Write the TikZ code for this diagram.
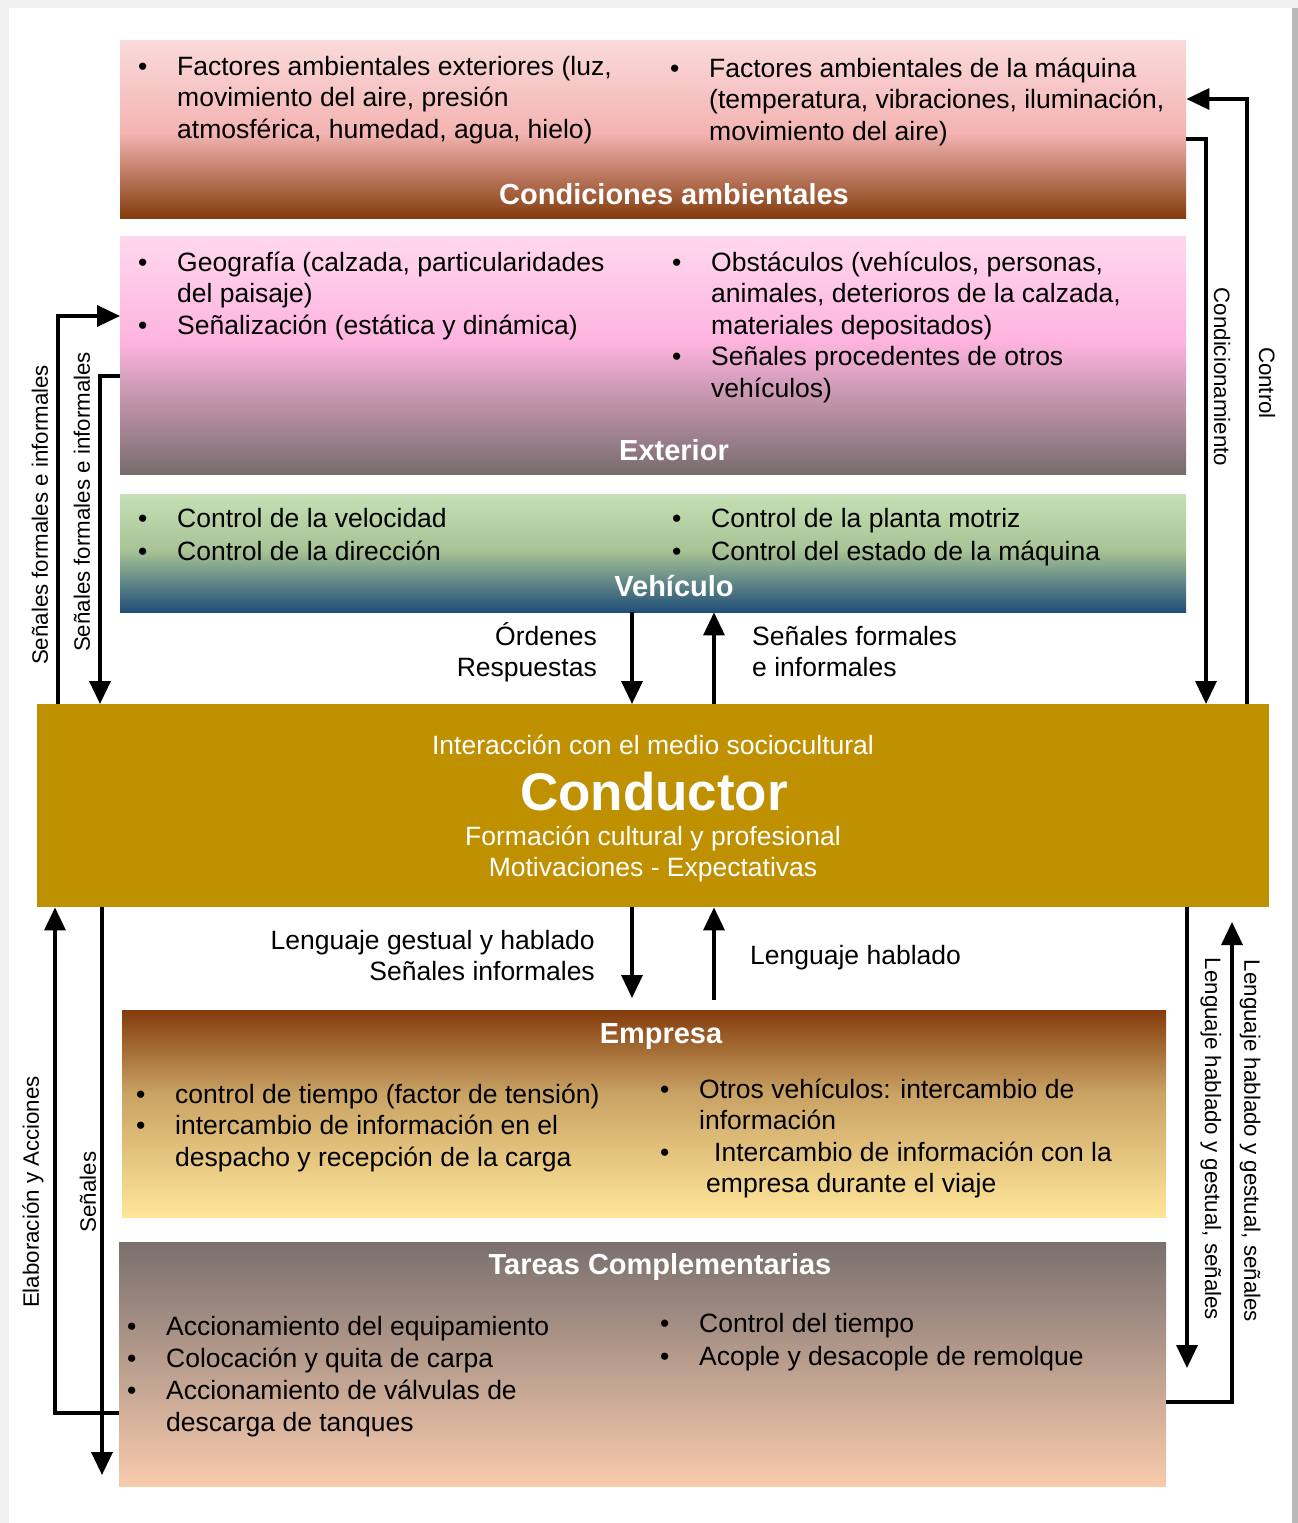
\documentclass[tikz,border=0pt]{standalone}
\usepackage{fontspec}
\setmainfont{Liberation Sans}
\usetikzlibrary{arrows.meta,positioning}
\definecolor{ambtop}{HTML}{FADADA}
\definecolor{ambmid}{HTML}{F3B4B2}
\definecolor{ambbot}{HTML}{843C0C}
\definecolor{exttop}{HTML}{FFD8EE}
\definecolor{extmid}{HTML}{FEB4DF}
\definecolor{extbot}{HTML}{776C6C}
\definecolor{vehtop}{HTML}{C5E0B4}
\definecolor{vehmid}{HTML}{A7C294}
\definecolor{vehbot}{HTML}{1F4E79}
\definecolor{emptop}{HTML}{843C0C}
\definecolor{empmid}{HTML}{C9A264}
\definecolor{empbot}{HTML}{FFE699}
\definecolor{tartop}{HTML}{7A706E}
\definecolor{tarbot}{HTML}{F8CBAD}
\definecolor{drvgold}{HTML}{BF9000}
\pgfdeclareverticalshading{ambshade}{100bp}{color(0bp)=(ambbot); color(25bp)=(ambbot); color(49bp)=(ambmid); color(75bp)=(ambtop); color(100bp)=(ambtop)}
\pgfdeclareverticalshading{extshade}{100bp}{color(0bp)=(extbot); color(25bp)=(extbot); color(53bp)=(extmid); color(75bp)=(exttop); color(100bp)=(exttop)}
\pgfdeclareverticalshading{vehshade}{100bp}{color(0bp)=(vehbot); color(25bp)=(vehbot); color(51bp)=(vehmid); color(75bp)=(vehtop); color(100bp)=(vehtop)}
\pgfdeclareverticalshading{empshade}{100bp}{color(0bp)=(empbot); color(25bp)=(empbot); color(55bp)=(empmid); color(75bp)=(emptop); color(100bp)=(emptop)}
\pgfdeclareverticalshading{tarshade}{100bp}{color(0bp)=(tarbot); color(25bp)=(tarbot); color(75bp)=(tartop); color(100bp)=(tartop)}
\tikzset{
  box/.style={rectangle,inner sep=0pt,anchor=north west},
  lst/.style={anchor=base west,inner sep=0pt,font=\fontsize{26.5}{31.5}\selectfont},
  ttl/.style={anchor=base,inner sep=0pt,text=white,font=\bfseries\fontsize{29}{34}\selectfont},
  wtxt/.style={anchor=base,inner sep=0pt,text=white,font=\fontsize{26.5}{31.5}\selectfont},
  lbl/.style={inner sep=0pt,font=\fontsize{26.5}{31.5}\selectfont},
  vlbl/.style={inner sep=0pt,font=\fontsize{22.3}{26}\selectfont},
  flow/.style={line width=3.5pt,-{Triangle[length=23pt,width=21pt]}}
}
\newcommand{\blist}[1]{\begin{tabular}[t]{@{}p{39pt}@{}l@{}}#1\end{tabular}}
\newcommand{\rows}[2]{\begin{tabular}[t]{@{}#1@{}}#2\end{tabular}}
\begin{document}
\begin{tikzpicture}[x=1pt,y=-1pt]
% \draw[help lines,step=100] (0,0) grid (1298,1523);
\useasboundingbox (0,0) rectangle (1298,1523);
\fill[gray!12] (0,0) rectangle (1298,1523);
\fill[white] (9,8) rectangle (1292,1523);
\fill[gray!55] (1292,8) rectangle (1298,1523);
%
\node (amb) [box,shade,shading=ambshade,minimum width=1066pt,minimum height=178pt] at (120,40) {};
\node (ext) [box,shade,shading=extshade,minimum width=1066pt,minimum height=238pt] at (120,236) {};
\node (veh) [box,shade,shading=vehshade,minimum width=1066pt,minimum height=118pt] at (120,494) {};
\node (drv) [box,fill=drvgold,minimum width=1232pt,minimum height=203pt] at (37,704) {};
\node (emp) [box,shade,shading=empshade,minimum width=1044pt,minimum height=207pt] at (122,1010) {};
\node (tar) [box,shade,shading=tarshade,minimum width=1047pt,minimum height=244pt] at (119,1242) {};
%
\node (ambL) [lst] at (138,75) {\blist{\textbullet & Factores ambientales exteriores (luz,\\ & movimiento del aire, presión\\ & atmosférica, humedad, agua, hielo)}};
\node (ambR) [lst] at (670,77) {\blist{\textbullet & Factores ambientales de la máquina\\ & (temperatura, vibraciones, iluminación,\\ & movimiento del aire)}};
\node (ambT) [ttl] at (674,204) {Condiciones ambientales};
%
\node (extL) [lst] at (138,271) {\blist{\textbullet & Geografía (calzada, particularidades\\ & del paisaje)\\ \textbullet & Señalización (estática y dinámica)}};
\node (extR) [lst] at (672,271) {\blist{\textbullet & Obstáculos (vehículos, personas,\\ & animales, deterioros de la calzada,\\ & materiales depositados)\\ \textbullet & Señales procedentes de otros\\ & vehículos)}};
\node (extT) [ttl] at (674,460) {Exterior};
%
\node (vehL) [lst,font=\fontsize{26.5}{33}\selectfont] at (138,527) {\blist{\textbullet & Control de la velocidad\\ \textbullet & Control de la dirección}};
\node (vehR) [lst,font=\fontsize{26.5}{33}\selectfont] at (672,527) {\blist{\textbullet & Control de la planta motriz\\ \textbullet & Control del estado de la máquina}};
\node (vehT) [ttl] at (674,596) {Vehículo};
%
\node (drvI) [wtxt] at (653,754) {Interacción con el medio sociocultural};
\node (drvT) [wtxt,font=\bfseries\fontsize{53}{60}\selectfont] at (654,810) {Conductor};
\node (drvF) [wtxt] at (653,845) {Formación cultural y profesional};
\node (drvM) [wtxt] at (653,876) {Motivaciones - Expectativas};
%
\node (empT) [ttl] at (661,1043) {Empresa};
\node (empL) [lst] at (136,1103) {\blist{\textbullet & control de tiempo (factor de tensión)\\ \textbullet & intercambio de información en el\\ & despacho y recepción de la carga}};
\node (empR) [lst] at (660,1098) {\blist{\textbullet & Otros vehículos: intercambio de\\ & información\\ \textbullet & \hspace{15pt}Intercambio de información con la\\ & \hspace{7pt}empresa durante el viaje}};
%
\node (tarT) [ttl] at (660,1274) {Tareas Complementarias};
\node (tarL) [lst,font=\fontsize{26.5}{32}\selectfont] at (127,1335) {\blist{\textbullet & Accionamiento del equipamiento\\ \textbullet & Colocación y quita de carpa\\ \textbullet & Accionamiento de válvulas de\\ & descarga de tanques}};
\node (tarR) [lst,font=\fontsize{26.5}{33}\selectfont] at (660,1332) {\blist{\textbullet & Control del tiempo\\ \textbullet & Acople y desacople de remolque}};
%
\draw[flow] (veh.south -| 632,0) -- (drv.north -| 632,0);
\draw[flow] (drv.north -| 714,0) -- (veh.south -| 714,0);
\node (ordL) [lbl,anchor=base east] at (597,645) {\rows{r}{Órdenes\\Respuestas}};
\node (sfiC) [lbl,anchor=base west] at (752,645) {\rows{l}{Señales formales\\e informales}};
%
\draw[flow,shorten >=12pt] (drv.south -| 632,0) -- (emp.north -| 632,0);
\draw[flow,shorten <=10pt] (emp.north -| 714,0) -- (drv.south -| 714,0);
\node (lgsL) [lbl,anchor=base east] at (595,949) {\rows{r}{Lenguaje gestual y hablado\\Señales informales}};
\node (lhL) [lbl,anchor=base west] at (750,964) {Lenguaje hablado};
%
\draw[flow] (drv.north -| 58,0) |- (ext.west |- 0,316);
\draw[flow] (ext.west |- 0,376) -| (drv.north -| 100,0);
\node (sfiA) [vlbl,rotate=90] at (40,515) {Señales formales e informales};
\node (sfiB) [vlbl,rotate=90] at (82,502) {Señales formales e informales};
%
\coordinate (sgEnd) at (102,1475);
\draw[flow] (tar.west |- 0,1413) -| (drv.south -| 55,0);
\draw[flow] (drv.south -| sgEnd) -- (sgEnd);
\node (elab) [vlbl,rotate=90] at (33,1192) {Elaboración y Acciones};
\node (sen) [vlbl,rotate=90] at (88,1192) {Señales};
%
\draw[flow] (amb.east |- 0,139) -| (drv.north -| 1206,0);
\draw[flow] (drv.north -| 1247,0) |- (amb.east |- 0,99);
\node (cond) [vlbl,rotate=-90] at (1222,377) {Condicionamiento};
\node (ctrl) [vlbl,rotate=-90] at (1267,383) {Control};
%
\coordinate (lgEnd) at (1187,1368);
\coordinate (lhEnd) at (1232,922);
\draw[flow] (drv.south -| lgEnd) -- (lgEnd);
\draw[flow] (tar.east |- 0,1402) -| (lhEnd);
\node (lhgA) [vlbl,rotate=-90] at (1211,1139) {Lenguaje hablado y gestual, señales};
\node (lhgB) [vlbl,rotate=-90] at (1250,1141) {Lenguaje hablado y gestual, señales};
\end{tikzpicture}
\end{document}
